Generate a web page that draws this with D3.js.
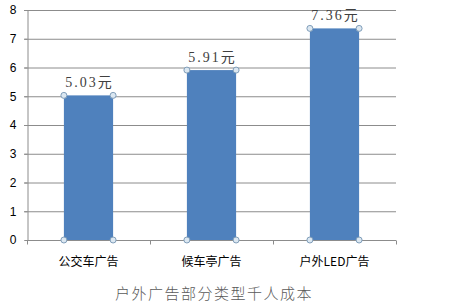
<!DOCTYPE html>
<html>
<head>
<meta charset="utf-8">
<script src="https://cdn.jsdelivr.net/npm/d3@7"></script>
<style>
  body { margin: 0; background: #fff; }
  svg { display: block; }
</style>
</head>
<body>
<div id="chart"></div>
<script>
const categories = ["公交车广告", "候车亭广告", "户外LED广告"];
const costs = [5.03, 5.91, 7.36];
const valueLabels = ["5.03元", "5.91元", "7.36元"];
const yTicks = [0, 1, 2, 3, 4, 5, 6, 7, 8];
const title = "户外广告部分类型千人成本";

const W = 472, H = 308;
const margin = {top: 10, right: 76, bottom: 68, left: 27};
const width = W - margin.left - margin.right,
  height = H - margin.top - margin.bottom;

const svg = d3.select("#chart").append("svg").attr("width", W).attr("height", H);
const g = svg.append("g").attr("transform", "translate(" + margin.left + "," + margin.top + ")");

const x = d3.scaleBand().domain(categories).range([0, width]).paddingInner(0.6).paddingOuter(0.3);
const y = d3.scaleLinear().domain([0, 8]).range([height, 0]);

// gridlines
g.selectAll(".grid").data(yTicks.slice(1)).enter().append("line")
  .attr("x1", -3).attr("x2", width)
  .attr("y1", d => y(d) + 0.5).attr("y2", d => y(d) + 0.5)
  .attr("stroke", "#8c8c8c").attr("stroke-width", 1);

// y axis
const yAxis = g.append("g").attr("transform", "translate(0.5,0)")
  .call(d3.axisLeft(y).tickValues(yTicks).tickSize(3).tickPadding(8).tickFormat(d3.format("d")));
yAxis.select(".domain").attr("stroke", "#8c8c8c");
yAxis.selectAll(".tick line").attr("stroke", "#8c8c8c");
yAxis.selectAll("text").style("font-family", "Liberation Sans, Arial, sans-serif").style("font-size", "12px").attr("fill", "#000");

// bars
g.selectAll(".bar").data(categories).enter().append("rect")
  .attr("x", d => x(d)).attr("y", (d, i) => y(costs[i]))
  .attr("width", x.bandwidth()).attr("height", (d, i) => height - y(costs[i]))
  .attr("fill", "#4f81bd");

// x axis
const xAxis = g.append("g").attr("transform", "translate(0," + (height + 0.5) + ")");
xAxis.append("line").attr("x1", 0).attr("x2", width).attr("stroke", "#8c8c8c");
xAxis.selectAll(".xt").data(d3.range(categories.length + 1)).enter().append("line")
  .attr("x1", i => Math.round(i * width / categories.length) + 0.5)
  .attr("x2", i => Math.round(i * width / categories.length) + 0.5)
  .attr("y1", 0).attr("y2", 4).attr("stroke", "#8c8c8c");
xAxis.selectAll(".xl").data(categories).enter().append("text")
  .attr("x", d => x(d) + x.bandwidth() / 2).attr("y", 25)
  .attr("text-anchor", "middle")
  .style("font-family", "Noto Sans CJK SC, sans-serif").style("font-size", "12px")
  .attr("fill", "#000").text(d => d);

// corner handles
const corners = [];
categories.forEach((c, i) => {
  [x(c), x(c) + x.bandwidth()].forEach(cx => {
    corners.push([cx, y(costs[i])]);
    corners.push([cx, y(0)]);
  });
});
g.selectAll(".handle").data(corners).enter().append("circle")
  .attr("cx", d => d[0]).attr("cy", d => d[1]).attr("r", 3)
  .attr("fill", "#dbe7f1").attr("stroke", "#7f9db9").attr("stroke-width", 1);

// value labels
g.selectAll(".val").data(categories).enter().append("text")
  .attr("x", d => x(d) + x.bandwidth() / 2 + 1).attr("y", (d, i) => y(costs[i]) - 8)
  .attr("text-anchor", "middle")
  .style("font-family", "Liberation Serif, Noto Sans CJK SC, serif").style("font-size", "14px")
  .style("letter-spacing", "2px")
  .attr("fill", "#404040").text((d, i) => valueLabels[i]);

// title
svg.append("text").attr("x", 214).attr("y", 299).attr("text-anchor", "middle")
  .style("font-family", "Noto Sans CJK SC, serif").style("font-size", "15px")
  .style("font-weight", "300").style("letter-spacing", "1.5px")
  .attr("fill", "#595959").text(title);
</script>
</body>
</html>
